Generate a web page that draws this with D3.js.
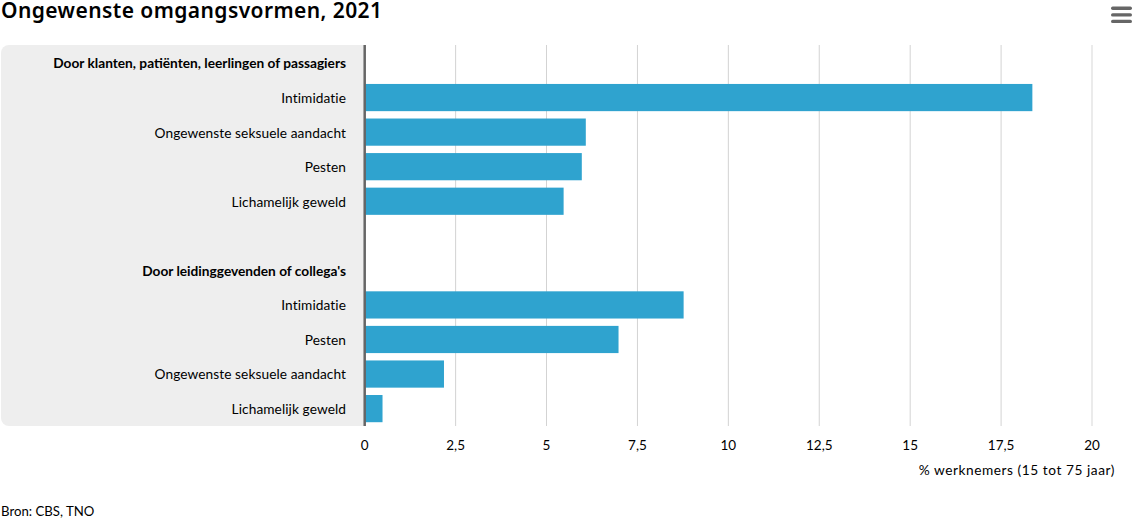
<!DOCTYPE html>
<html><head><meta charset="utf-8">
<script src="https://cdn.jsdelivr.net/npm/d3@7"></script>
<style>html,body{margin:0;padding:0;background:#fff}svg{display:block}text{font-family:"Lato","Noto Sans",sans-serif;fill:#000}</style>
</head><body><div id="c"></div>
<script>
const categories=["Door klanten, patiënten, leerlingen of passagiers","Intimidatie","Ongewenste seksuele aandacht","Pesten","Lichamelijk geweld","","Door leidinggevenden of collega's","Intimidatie","Pesten","Ongewenste seksuele aandacht","Lichamelijk geweld"];
const values=[null,18.36,6.08,5.97,5.47,null,null,8.77,6.98,2.18,0.49];
const headers=[0,6];
const xTicks=[0,2.5,5,7.5,10,12.5,15,17.5,20];
const title="Ongewenste omgangsvormen, 2021";
const unit="% werknemers (15 tot 75 jaar)";
const source="Bron: CBS, TNO";

(function(){
const W=1134,H=518,plotTop=45,plotBottom=426,x0=364.7,x1=1092;
const x=d3.scaleLinear().domain([0,20]).range([x0,x1]);
const y=d3.scaleBand().domain(d3.range(categories.length)).range([plotTop,plotBottom+0.6]).paddingInner(0.213).paddingOuter(0.127);
const svg=d3.select("#c").append("svg").attr("width",W).attr("height",H);
svg.append("text").attr("x",1).attr("y",18).style("font-family","'Noto Sans'").attr("font-size",21).attr("font-weight",600).attr("letter-spacing",0.42).text(title);
const menu=svg.append("g");
[6.5,13.2,19.7].forEach(v=>menu.append("rect").attr("x",1111).attr("y",v).attr("width",21).attr("height",3.4).attr("rx",1.7).attr("fill","#666"));
const plot=svg.append("g");
plot.append("path").attr("fill","#eee").attr("d",`M${x0},${plotTop}H9a8,8 0 0 0 -8,8V${plotBottom-8}a8,8 0 0 0 8,8H${x0}Z`);
plot.selectAll("line.g").data(xTicks.slice(1)).join("line").attr("class","g").attr("x1",d=>x(d)).attr("x2",d=>x(d)).attr("y1",plotTop).attr("y2",plotBottom).attr("stroke",d=>d===20?"#e6e6e6":"#d3d3d3").attr("stroke-width",d=>d===20?1.6:1);
const rows=d3.range(categories.length);
plot.selectAll("rect.b").data(rows.filter(i=>values[i]!=null)).join("rect").attr("class","b").attr("x",x0).attr("y",i=>y(i)).attr("width",i=>x(values[i])-x0).attr("height",y.bandwidth()).attr("fill","#2fa3cf");
plot.append("line").attr("x1",x0).attr("x2",x0).attr("y1",plotTop).attr("y2",plotBottom).attr("stroke","#666").attr("stroke-width",2.5);
plot.selectAll("text.c").data(rows).join("text").attr("class","c").attr("x",346).attr("y",i=>y(i)+y.bandwidth()/2+5.4).attr("text-anchor","end").attr("font-size",13.7).attr("letter-spacing",i=>headers.includes(i)?0:0.08).attr("font-weight",i=>headers.includes(i)?700:400).text(i=>categories[i]);
const fmt=d=>String(d).replace(".",",");
plot.selectAll("text.t").data(xTicks).join("text").attr("class","t").attr("x",d=>x(d)).attr("y",450).attr("text-anchor","middle").attr("font-size",13.5).text(fmt);
svg.append("text").attr("x",1115).attr("y",475).attr("text-anchor","end").attr("font-size",13.7).attr("letter-spacing",0.55).text(unit);
svg.append("text").attr("x",1).attr("y",515.5).attr("font-size",13.2).text(source);
})();
</script></body></html>
